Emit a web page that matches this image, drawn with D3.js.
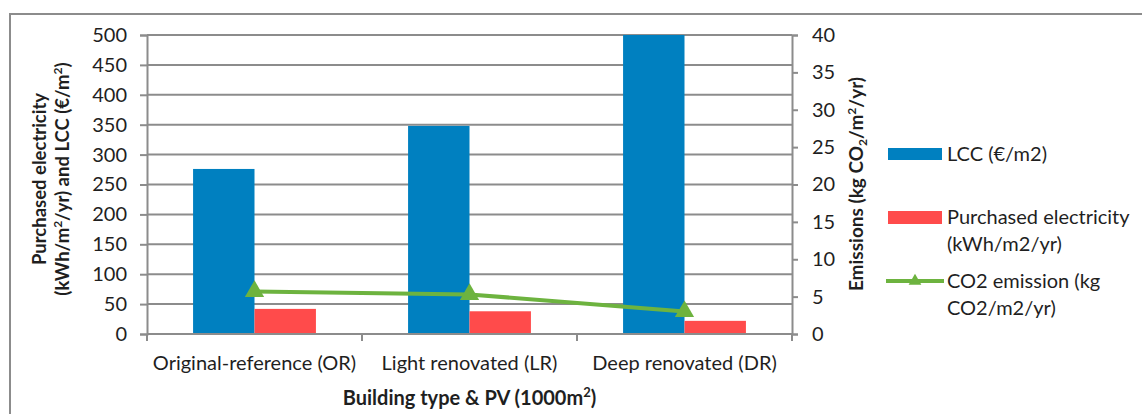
<!DOCTYPE html>
<html>
<head>
<meta charset="utf-8">
<script src="https://cdn.jsdelivr.net/npm/d3@7"></script>
<style>
  body { margin: 0; background: #fff; }
  svg { font-family: Lato, "Open Sans", sans-serif; }
</style>
</head>
<body>
<svg id="chart" width="1142" height="414"></svg>
<script>
// datos
const categorias = ["Original-reference (OR)", "Light renovated (LR)", "Deep renovated (DR)"];
const lcc = [276, 348, 500];
const electricidad = [42, 38, 22];
const emisiones = [5.7, 5.3, 3.0];
const ticksIzq = [0, 50, 100, 150, 200, 250, 300, 350, 400, 450, 500];
const ticksDer = [0, 5, 10, 15, 20, 25, 30, 35, 40];

const azul = "#0080c0";
const rojo = "#ff4b4b";
const verde = "#6db33f";
const texto = "#1f1f1f";

const svg = d3.select("#chart");

// marco exterior
svg.append("rect")
    .attr("x", 10).attr("y", 14)
    .attr("width", 1150).attr("height", 420)
    .attr("fill", "none").attr("stroke", "#8c8c8c").attr("stroke-width", 2);

const izq = 147, der = 792, arriba = 35, abajo = 334;

const x = d3.scaleBand().domain(categorias).range([izq, der]).paddingInner(0).paddingOuter(0);
const yIzq = d3.scaleLinear().domain([0, 500]).range([abajo, arriba]);
const yDer = d3.scaleLinear().domain([0, 40]).range([abajo, arriba]);

// líneas de cuadrícula
svg.append("g").selectAll("line").data(ticksIzq.slice(1)).enter().append("line")
    .attr("x1", izq).attr("x2", der)
    .attr("y1", d => yIzq(d)).attr("y2", d => yIzq(d))
    .attr("stroke", "#8c8c8c").attr("stroke-width", 2);

// barras (hueco 75% como en Excel)
const anchoGrupo = x.bandwidth() / 1.75;
const anchoBarra = anchoGrupo / 2;

svg.append("g").selectAll("rect").data(lcc).enter().append("rect")
    .attr("x", (d, i) => x(categorias[i]) + x.bandwidth() / 2 - anchoBarra)
    .attr("y", d => yIzq(d))
    .attr("width", anchoBarra)
    .attr("height", d => yIzq(0) - yIzq(d))
    .attr("fill", azul);

svg.append("g").selectAll("rect").data(electricidad).enter().append("rect")
    .attr("x", (d, i) => x(categorias[i]) + x.bandwidth() / 2)
    .attr("y", d => yIzq(d))
    .attr("width", anchoBarra)
    .attr("height", d => yIzq(0) - yIzq(d))
    .attr("fill", rojo);

// ejes
const ejeIzq = svg.append("g").attr("transform", "translate(" + izq + ",0)")
    .call(d3.axisLeft(yIzq).tickValues(ticksIzq).tickSize(7).tickPadding(13));
const ejeDer = svg.append("g").attr("transform", "translate(" + der + ",0)")
    .call(d3.axisRight(yDer).tickValues(ticksDer).tickSize(6).tickPadding(14));
const ejeX = svg.append("g").attr("transform", "translate(0," + abajo + ")")
    .call(d3.axisBottom(x).tickSize(0).tickPadding(22));

[ejeIzq, ejeDer].forEach(function (g) {
  g.select(".domain").attr("stroke", "#8c8c8c").attr("stroke-width", 2);
  g.selectAll(".tick line").attr("stroke", "#8c8c8c").attr("stroke-width", 2);
  g.selectAll(".tick text").attr("font-size", 20).attr("fill", texto).attr("font-family", "Lato");
});
ejeX.select(".domain").remove();
ejeX.selectAll(".tick text").attr("font-size", 20).attr("fill", texto).attr("font-family", "Lato");

// línea base con marcas entre categorías
svg.append("line").attr("x1", izq).attr("x2", der).attr("y1", abajo).attr("y2", abajo)
    .attr("stroke", "#8c8c8c").attr("stroke-width", 2);
svg.append("g").selectAll("line").data(categorias.concat(["fin"])).enter().append("line")
    .attr("x1", (d, i) => i < categorias.length ? x(d) : der)
    .attr("x2", (d, i) => i < categorias.length ? x(d) : der)
    .attr("y1", abajo).attr("y2", abajo + 7)
    .attr("stroke", "#8c8c8c").attr("stroke-width", 2);

// línea de emisiones
const linea = d3.line()
    .x((d, i) => x(categorias[i]) + x.bandwidth() / 2)
    .y(d => yDer(d));
svg.append("path").datum(emisiones)
    .attr("d", linea).attr("fill", "none")
    .attr("stroke", verde).attr("stroke-width", 4);
svg.append("g").selectAll("path").data(emisiones).enter().append("path")
    .attr("d", d3.symbol().type(d3.symbolTriangle).size(160))
    .attr("transform", (d, i) => "translate(" + (x(categorias[i]) + x.bandwidth() / 2) + "," + yDer(d) + ")")
    .attr("fill", verde);

// títulos de ejes
const tituloIzq = svg.append("text")
    .attr("transform", "translate(46,179) rotate(-90)")
    .attr("text-anchor", "middle").attr("font-weight", "bold").attr("font-size", 18.5).attr("fill", texto);
tituloIzq.append("tspan").attr("x", 0).attr("dy", 0).text("Purchased electricity");
const l2 = tituloIzq.append("tspan").attr("x", 0).attr("dy", 23);
l2.append("tspan").text("(kWh/m");
l2.append("tspan").attr("font-size", 12).attr("dy", -7).text("2");
l2.append("tspan").attr("dy", 7).text("/yr) and LCC (€/m");
l2.append("tspan").attr("font-size", 12).attr("dy", -7).text("2");
l2.append("tspan").attr("dy", 7).text(")");

const tituloDer = svg.append("text")
    .attr("transform", "translate(863,184) rotate(-90)")
    .attr("text-anchor", "middle").attr("font-weight", "bold").attr("font-size", 19).attr("fill", texto);
tituloDer.append("tspan").text("Emissions (kg CO");
tituloDer.append("tspan").attr("font-size", 12).attr("dy", 4).text("2");
tituloDer.append("tspan").attr("dy", -4).text("/m");
tituloDer.append("tspan").attr("font-size", 12).attr("dy", -7).text("2");
tituloDer.append("tspan").attr("dy", 7).text("/yr)");

const tituloX = svg.append("text")
    .attr("x", (izq + der) / 2).attr("y", 405)
    .attr("text-anchor", "middle").attr("font-weight", "bold").attr("font-size", 20).attr("fill", texto);
tituloX.append("tspan").text("Building type & PV (1000m");
tituloX.append("tspan").attr("font-size", 13).attr("dy", -8).text("2");
tituloX.append("tspan").attr("dy", 8).text(")");

// leyenda
const leyenda = svg.append("g").attr("font-size", 20).attr("fill", texto);
leyenda.append("rect").attr("x", 888).attr("y", 148).attr("width", 54).attr("height", 12).attr("fill", azul);
leyenda.append("text").attr("x", 947).attr("y", 161).text("LCC (€/m2)");
leyenda.append("rect").attr("x", 888).attr("y", 211).attr("width", 54).attr("height", 13).attr("fill", rojo);
leyenda.append("text").attr("x", 947).attr("y", 224).text("Purchased electricity");
leyenda.append("text").attr("x", 947).attr("y", 251).text("(kWh/m2/yr)");
leyenda.append("line").attr("x1", 886).attr("x2", 944).attr("y1", 281).attr("y2", 281)
    .attr("stroke", verde).attr("stroke-width", 4);
leyenda.append("path").attr("d", d3.symbol().type(d3.symbolTriangle).size(70))
    .attr("transform", "translate(915,281)").attr("fill", verde);
leyenda.append("text").attr("x", 947).attr("y", 288).text("CO2 emission (kg");
leyenda.append("text").attr("x", 947).attr("y", 315).text("CO2/m2/yr)");
</script>
</body>
</html>
